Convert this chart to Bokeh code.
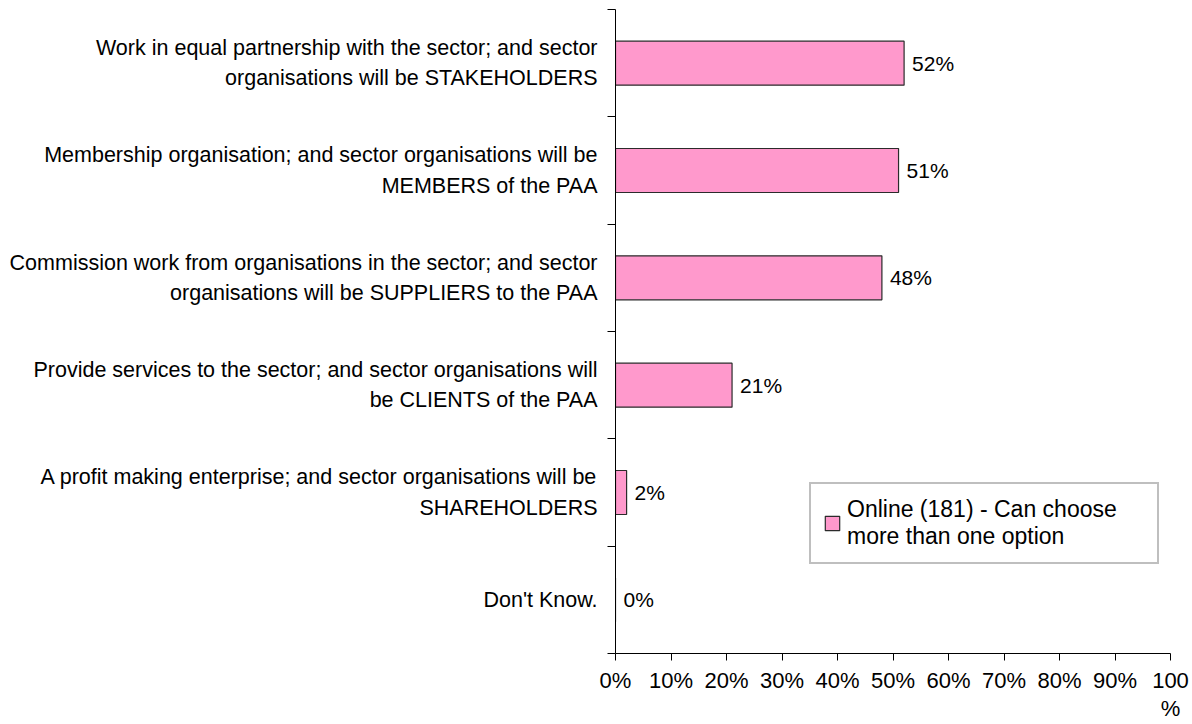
from bokeh.plotting import figure
from bokeh.models import ColumnDataSource, FixedTicker, Range1d, Legend, LegendItem
from bokeh.embed import file_html
from bokeh.resources import INLINE
from bokeh.core.properties import value

categories = [
    "Work in equal partnership with the sector; and sector\norganisations will be STAKEHOLDERS",
    "Membership organisation; and sector organisations will be\nMEMBERS of the PAA",
    "Commission work from organisations in the sector; and sector\norganisations will be SUPPLIERS to the PAA",
    "Provide services to the sector; and sector organisations will\nbe CLIENTS of the PAA",
    "A profit making enterprise; and sector organisations will be\nSHAREHOLDERS",
    "Don't Know.",
]
values = [52, 51, 48, 21, 2, 0]
x_ticks = [0, 10, 20, 30, 40, 50, 60, 70, 80, 90, 100]
x_tick_labels = ["0%", "10%", "20%", "30%", "40%", "50%", "60%", "70%", "80%", "90%", "100\n%"]
series_name = "Online (181) - Can choose\nmore than one option"

n = len(categories)
ypos = [n - 1 - i for i in range(n)]
src = ColumnDataSource(dict(
    y=ypos, v=values, lab=[f"{v}%" for v in values],
))

FONT = "Liberation Sans"

p = figure(width=1192, height=724, output_backend="svg", toolbar_location=None,
           x_range=Range1d(0, 100), y_range=Range1d(-0.5, n - 0.5),
           min_border_left=615, min_border_right=22, min_border_top=9, min_border_bottom=66)
p.outline_line_color = None
p.grid.visible = False
p.background_fill_color = "white"

r = p.hbar(y="y", right="v", left=0, height=0.41, source=src,
           fill_color="#FF99CC", line_color="#2b2b2b", line_width=1.2)

p.text(x="v", y="y", text="lab", source=src, x_offset=8,
       text_baseline="middle", text_align="left",
       text_font=value(FONT), text_font_size="21px", text_color="black")

# y axis
ya = p.yaxis[0]
ya.ticker = FixedTicker(ticks=ypos, minor_ticks=[i - 0.5 for i in range(n + 1)])
ya.major_label_overrides = {ypos[i]: categories[i] for i in range(n)}
ya.major_tick_line_color = None
ya.major_tick_out = 0
ya.major_tick_in = 0
ya.minor_tick_in = 0
ya.minor_tick_out = 8
ya.minor_tick_line_color = "black"
ya.axis_line_color = "black"
ya.major_label_text_font = FONT
ya.major_label_text_font_size = "21.5px"
ya.major_label_text_color = "black"
ya.major_label_text_line_height = 1.27
ya.major_label_standoff = 10

# x axis
xa = p.xaxis[0]
xa.ticker = FixedTicker(ticks=x_ticks)
xa.major_label_overrides = {x_ticks[i]: x_tick_labels[i] for i in range(len(x_ticks))}
xa.major_tick_in = 0
xa.major_tick_out = 7
xa.minor_tick_line_color = None
xa.axis_line_color = "black"
xa.major_tick_line_color = "black"
xa.major_label_text_font = FONT
xa.major_label_text_font_size = "22px"
xa.major_label_text_color = "black"
xa.major_label_standoff = 7
xa.major_label_text_line_height = 1.15

legend = Legend(items=[LegendItem(label=series_name, renderers=[r])],
                location=(194, 89))
legend.label_text_font = FONT
legend.label_text_font_size = "23px"
legend.label_text_color = "black"
legend.label_text_line_height = 1.17
legend.border_line_color = "#808080"
legend.border_line_width = 2
legend.glyph_width = 18
legend.glyph_height = 18
legend.padding = 12
legend.margin = 0
legend.label_standoff = 6
legend.label_width = 298
p.add_layout(legend)

open("out.html", "w").write(file_html(p, INLINE))
